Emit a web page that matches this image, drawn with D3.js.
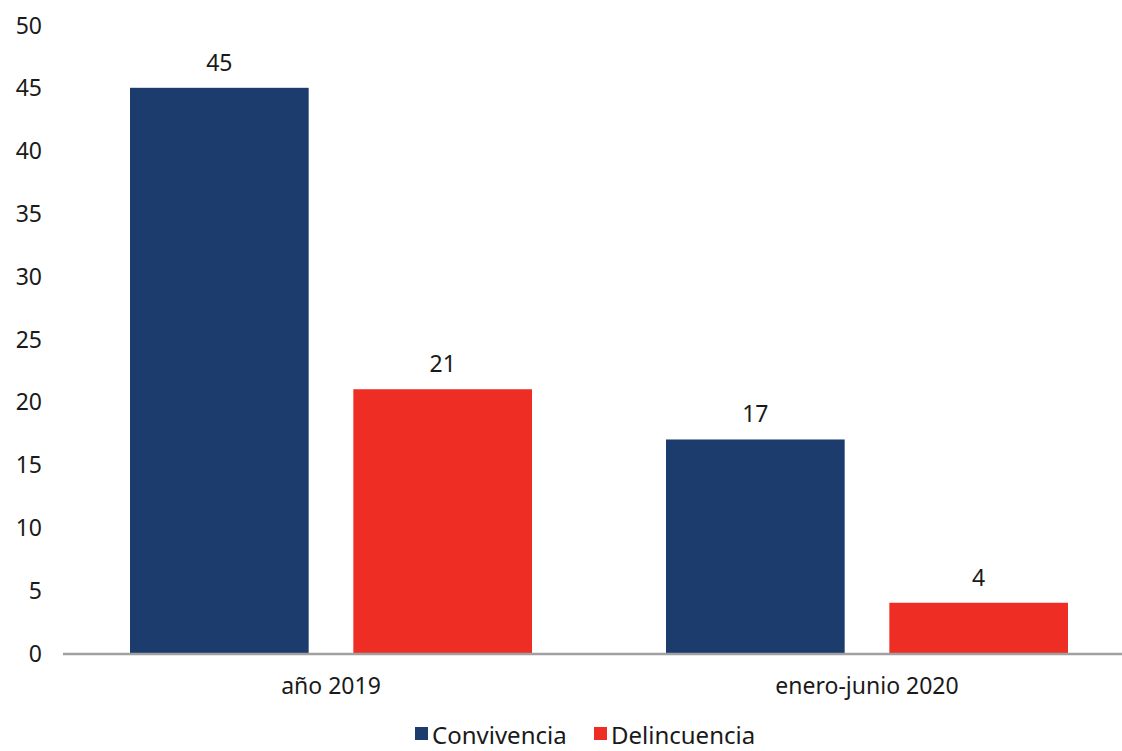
<!DOCTYPE html>
<html>
<head>
<meta charset="utf-8">
<script src="https://cdn.jsdelivr.net/npm/d3@7"></script>
<style>
  body { margin: 0; background: #fff; }
  svg text { font-family: "Noto Sans", "Open Sans", sans-serif; fill: #1a1a1a; }
</style>
</head>
<body>
<div id="chart"></div>
<script>
// data
const categories = ["año 2019", "enero-junio 2020"];
const seriesNames = ["Convivencia", "Delincuencia"];
const convivencia = [45, 17];
const delincuencia = [21, 4];
const yTicks = [0, 5, 10, 15, 20, 25, 30, 35, 40, 45, 50];

const colors = {"Convivencia": "#1d3c6e", "Delincuencia": "#ee2e24"};

var width = 1122, height = 751;
var svg = d3.select("#chart").append("svg")
    .attr("width", width)
    .attr("height", height);

var y = d3.scaleLinear().domain([0, 50]).range([653, 25]);

// groups run past the right edge a little, like the original
var x0 = d3.scaleBand().domain(categories).range([63, 1135]);
var x1 = d3.scaleBand().domain(seriesNames)
    .range([67, x0.bandwidth() - 67])
    .paddingInner(0.2);

var rows = categories.map(function(c, i) {
  return {cat: c, values: [
    {name: "Convivencia", value: convivencia[i]},
    {name: "Delincuencia", value: delincuencia[i]}
  ]};
});

// y axis labels only
var yAxis = d3.axisLeft(y).tickValues(yTicks).tickSize(0).tickPadding(0);
svg.append("g")
    .attr("transform", "translate(42,0)")
    .call(yAxis)
    .call(function(g) { g.select(".domain").remove(); })
    .selectAll("text")
      .attr("font-size", "23px")
      .attr("dy", "0.35em");

var groups = svg.selectAll("g.group")
  .data(rows)
  .enter().append("g")
    .attr("class", "group")
    .attr("transform", function(d) { return "translate(" + x0(d.cat) + ",0)"; });

groups.selectAll("rect")
  .data(function(d) { return d.values; })
  .enter().append("rect")
    .attr("x", function(d) { return x1(d.name); })
    .attr("y", function(d) { return y(d.value); })
    .attr("width", x1.bandwidth())
    .attr("height", function(d) { return y(0) - y(d.value); })
    .attr("fill", function(d) { return colors[d.name]; });

groups.selectAll("text.val")
  .data(function(d) { return d.values; })
  .enter().append("text")
    .attr("class", "val")
    .attr("x", function(d) { return x1(d.name) + x1.bandwidth() / 2; })
    .attr("y", function(d) { return y(d.value) - 17; })
    .attr("text-anchor", "middle")
    .attr("font-size", "23px")
    .text(function(d) { return d.value; });

// baseline
svg.append("line")
    .attr("x1", 63).attr("x2", width)
    .attr("y1", y(0) + 1).attr("y2", y(0) + 1)
    .attr("stroke", "#a0a0a0")
    .attr("stroke-width", 2.5);

// category labels
var xAxis = d3.axisBottom(x0).tickSize(0).tickPadding(0);
svg.append("g")
    .attr("transform", "translate(0,686)")
    .call(xAxis)
    .call(function(g) { g.select(".domain").remove(); })
    .selectAll("text")
      .attr("font-size", "23px")
      .attr("dy", "0.35em");

// legend
var legendX = [415, 594];
var legend = svg.selectAll("g.legend")
  .data(seriesNames)
  .enter().append("g")
    .attr("class", "legend")
    .attr("transform", function(d, i) { return "translate(" + legendX[i] + ",727)"; });

legend.append("rect")
    .attr("width", 13).attr("height", 13)
    .attr("fill", function(d) { return colors[d]; });

legend.append("text")
    .attr("x", 17)
    .attr("y", 17)
    .attr("font-size", "24px")
    .text(function(d) { return d; });
</script>
</body>
</html>
